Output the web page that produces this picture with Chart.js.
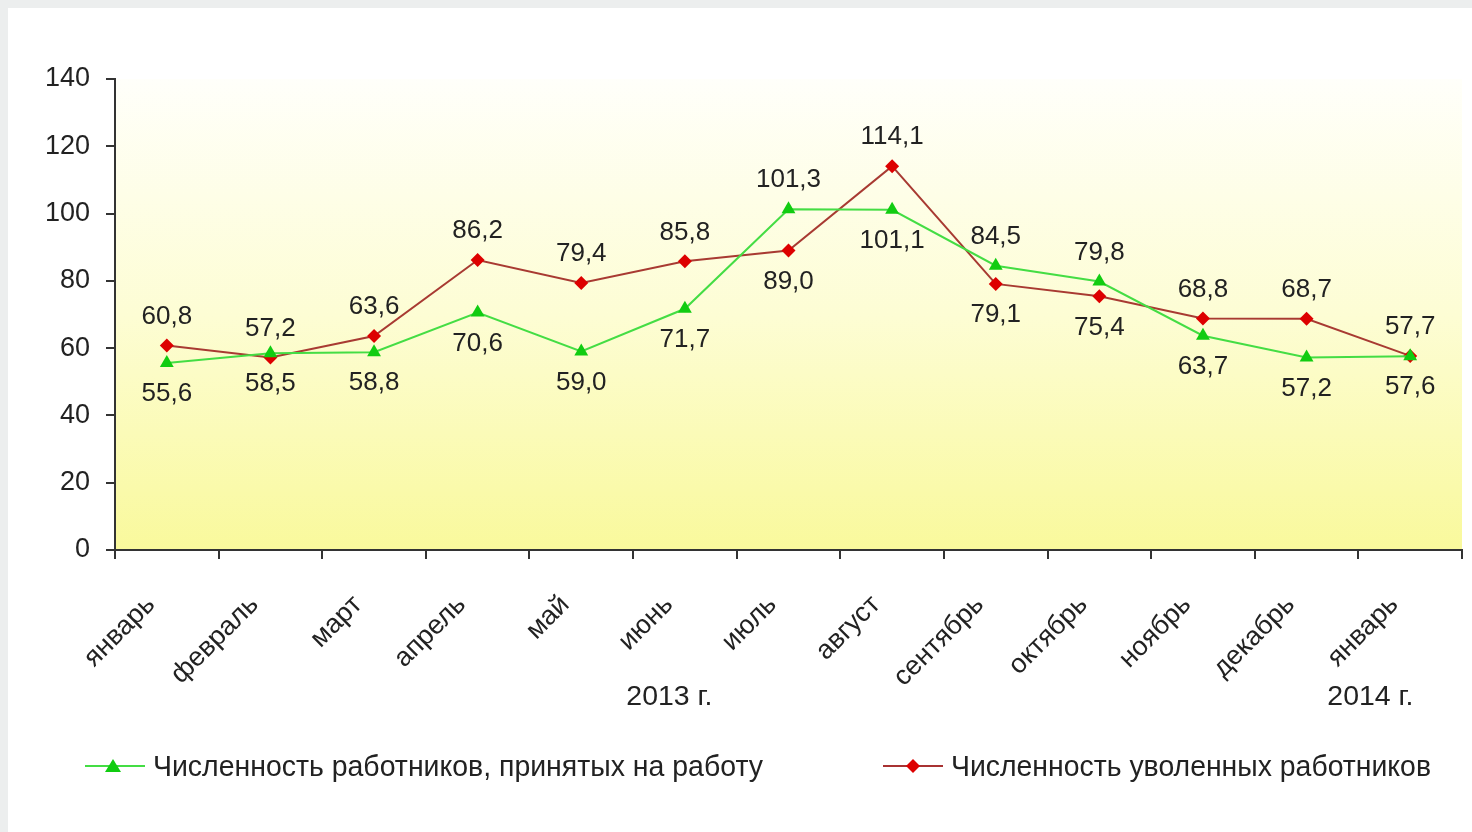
<!DOCTYPE html>
<html>
<head>
<meta charset="utf-8">
<script src="https://cdn.jsdelivr.net/npm/chart.js@4/dist/chart.umd.min.js"></script>
<style>
  html, body { margin:0; padding:0; }
  body { width:1472px; height:832px; background:#eceeee; position:relative; overflow:hidden; font-family:"Liberation Sans", Arial, sans-serif; color:#222; }
  #panel { position:absolute; left:8px; top:8px; right:0; bottom:0; background:#ffffff; }
  #c { position:absolute; left:0; top:0; }
  .txt { position:absolute; white-space:nowrap; color:#222; }
  .year { font-size:28px; top:680px; }
  .leg { position:absolute; top:748px; height:36px; display:flex; align-items:center; }
  .leg span { font-size:29px; margin-left:8px; display:inline-block; transform-origin:left center; }
</style>
</head>
<body>
<div id="panel"></div>
<canvas id="c" width="1472" height="832"></canvas>
<div class="txt year" id="y1" style="left:627px;">2013 г.</div>
<div class="txt year" id="y2" style="left:1328px;">2014 г.</div>
<div class="leg" style="left:85px;">
  <svg width="60" height="20"><line x1="0" y1="10" x2="60" y2="10" stroke="#44dd44" stroke-width="2"/><polygon points="28,3 36,16 20,16" fill="#11cc11"/></svg>
  <span id="l1">Численность работников, принятых на работу</span>
</div>
<div class="leg" style="left:883px;">
  <svg width="60" height="20"><line x1="0" y1="10" x2="60" y2="10" stroke="#a83232" stroke-width="2"/><polygon points="30,3 37,10 30,17 23,10" fill="#dd0000"/></svg>
  <span id="l2">Численность уволенных работников</span>
</div>
<script>
const categories = ['январь','февраль','март','апрель','май','июнь','июль','август','сентябрь','октябрь','ноябрь','декабрь','январь'];
const hired = [55.6, 58.5, 58.8, 70.6, 59.0, 71.7, 101.3, 101.1, 84.5, 79.8, 63.7, 57.2, 57.6];
const dismissed = [60.8, 57.2, 63.6, 86.2, 79.4, 85.8, 89.0, 114.1, 79.1, 75.4, 68.8, 68.7, 57.7];
const hiredLabelPos = ['below','below','below','below','below','below','above','below','above','above','below','below','below'];
const dismissedLabelPos = ['above','above','above','above','above','above','below','above','below','below','above','above','above'];
const yMin = 0, yMax = 140, yStep = 20;

const bgPlugin = {
  id: 'bg',
  beforeDraw(chart) {
    const {ctx, chartArea: a} = chart;
    const g = ctx.createLinearGradient(0, a.top, 0, a.bottom);
    g.addColorStop(0, '#fffffa');
    g.addColorStop(0.5, '#fdfdd4');
    g.addColorStop(1, '#f9f99c');
    ctx.save();
    ctx.fillStyle = g;
    ctx.fillRect(a.left, a.top, a.right - a.left, a.bottom - a.top);
    ctx.restore();
  }
};

const labelPlugin = {
  id: 'vals',
  afterDatasetsDraw(chart) {
    const ctx = chart.ctx;
    ctx.save();
    ctx.font = '26px "Liberation Sans", Arial, sans-serif';
    ctx.fillStyle = '#222';
    ctx.textAlign = 'center';
    ctx.textBaseline = 'middle';
    chart.data.datasets.forEach((ds, di) => {
      const meta = chart.getDatasetMeta(di);
      meta.data.forEach((pt, i) => {
        const txt = ds.data[i].toFixed(1).replace('.', ',');
        const pos = ds.labelPos[i];
        const y = pos === 'above' ? pt.y - 29 : pt.y + 31;
        ctx.fillText(txt, pt.x, y);
      });
    });
    ctx.restore();
  }
};

new Chart(document.getElementById('c'), {
  type: 'line',
  data: {
    labels: categories,
    datasets: [
      { label: 'Численность работников, принятых на работу', data: hired, labelPos: hiredLabelPos,
        borderColor: '#44dd44', borderWidth: 2, pointStyle: 'triangle', pointRadius: 8,
        pointBackgroundColor: '#11cc11', pointBorderColor: '#11cc11', pointBorderWidth: 0, tension: 0 },
      { label: 'Численность уволенных работников', data: dismissed, labelPos: dismissedLabelPos,
        borderColor: '#a83a32', borderWidth: 2, pointStyle: 'rectRot', pointRadius: 7,
        pointBackgroundColor: '#dd0000', pointBorderColor: '#dd0000', pointBorderWidth: 0, tension: 0 }
    ]
  },
  options: {
    responsive: false,
    animation: false,
    layout: { padding: { left: 0, right: 10, top: 79, bottom: 0 } },
    plugins: { legend: { display: false }, tooltip: { enabled: false } },
    scales: {
      x: {
        offset: true,
        grid: { display: true, offset: true, drawOnChartArea: false, drawTicks: true, tickLength: 9, color: '#333', lineWidth: 2 },
        border: { display: true, color: '#333', width: 2 },
        ticks: { minRotation: 45, maxRotation: 45, color: '#222', labelOffset: -16, font: { size: 27, family: '"Liberation Sans", Arial, sans-serif' }, padding: 30 },
        afterFit(s) { s.height = 282; }
      },
      y: {
        min: yMin, max: yMax,
        grid: { display: true, drawOnChartArea: false, drawTicks: true, tickLength: 9, color: '#333', lineWidth: 2 },
        border: { display: true, color: '#333', width: 2 },
        ticks: { stepSize: yStep, color: '#222', font: { size: 27, family: '"Liberation Sans", Arial, sans-serif' }, padding: 16 },
        afterFit(s) { s.width = 115; }
      }
    }
  },
  plugins: [bgPlugin, labelPlugin]
});

function fitW(id, w) {
  const el = document.getElementById(id);
  const cur = el.getBoundingClientRect().width;
  if (cur > 0) el.style.transform = 'scaleX(' + (w / cur) + ')';
}
fitW('l1', 610);
fitW('l2', 480);
fitW('y1', 86);
fitW('y2', 86);
</script>
</body>
</html>
